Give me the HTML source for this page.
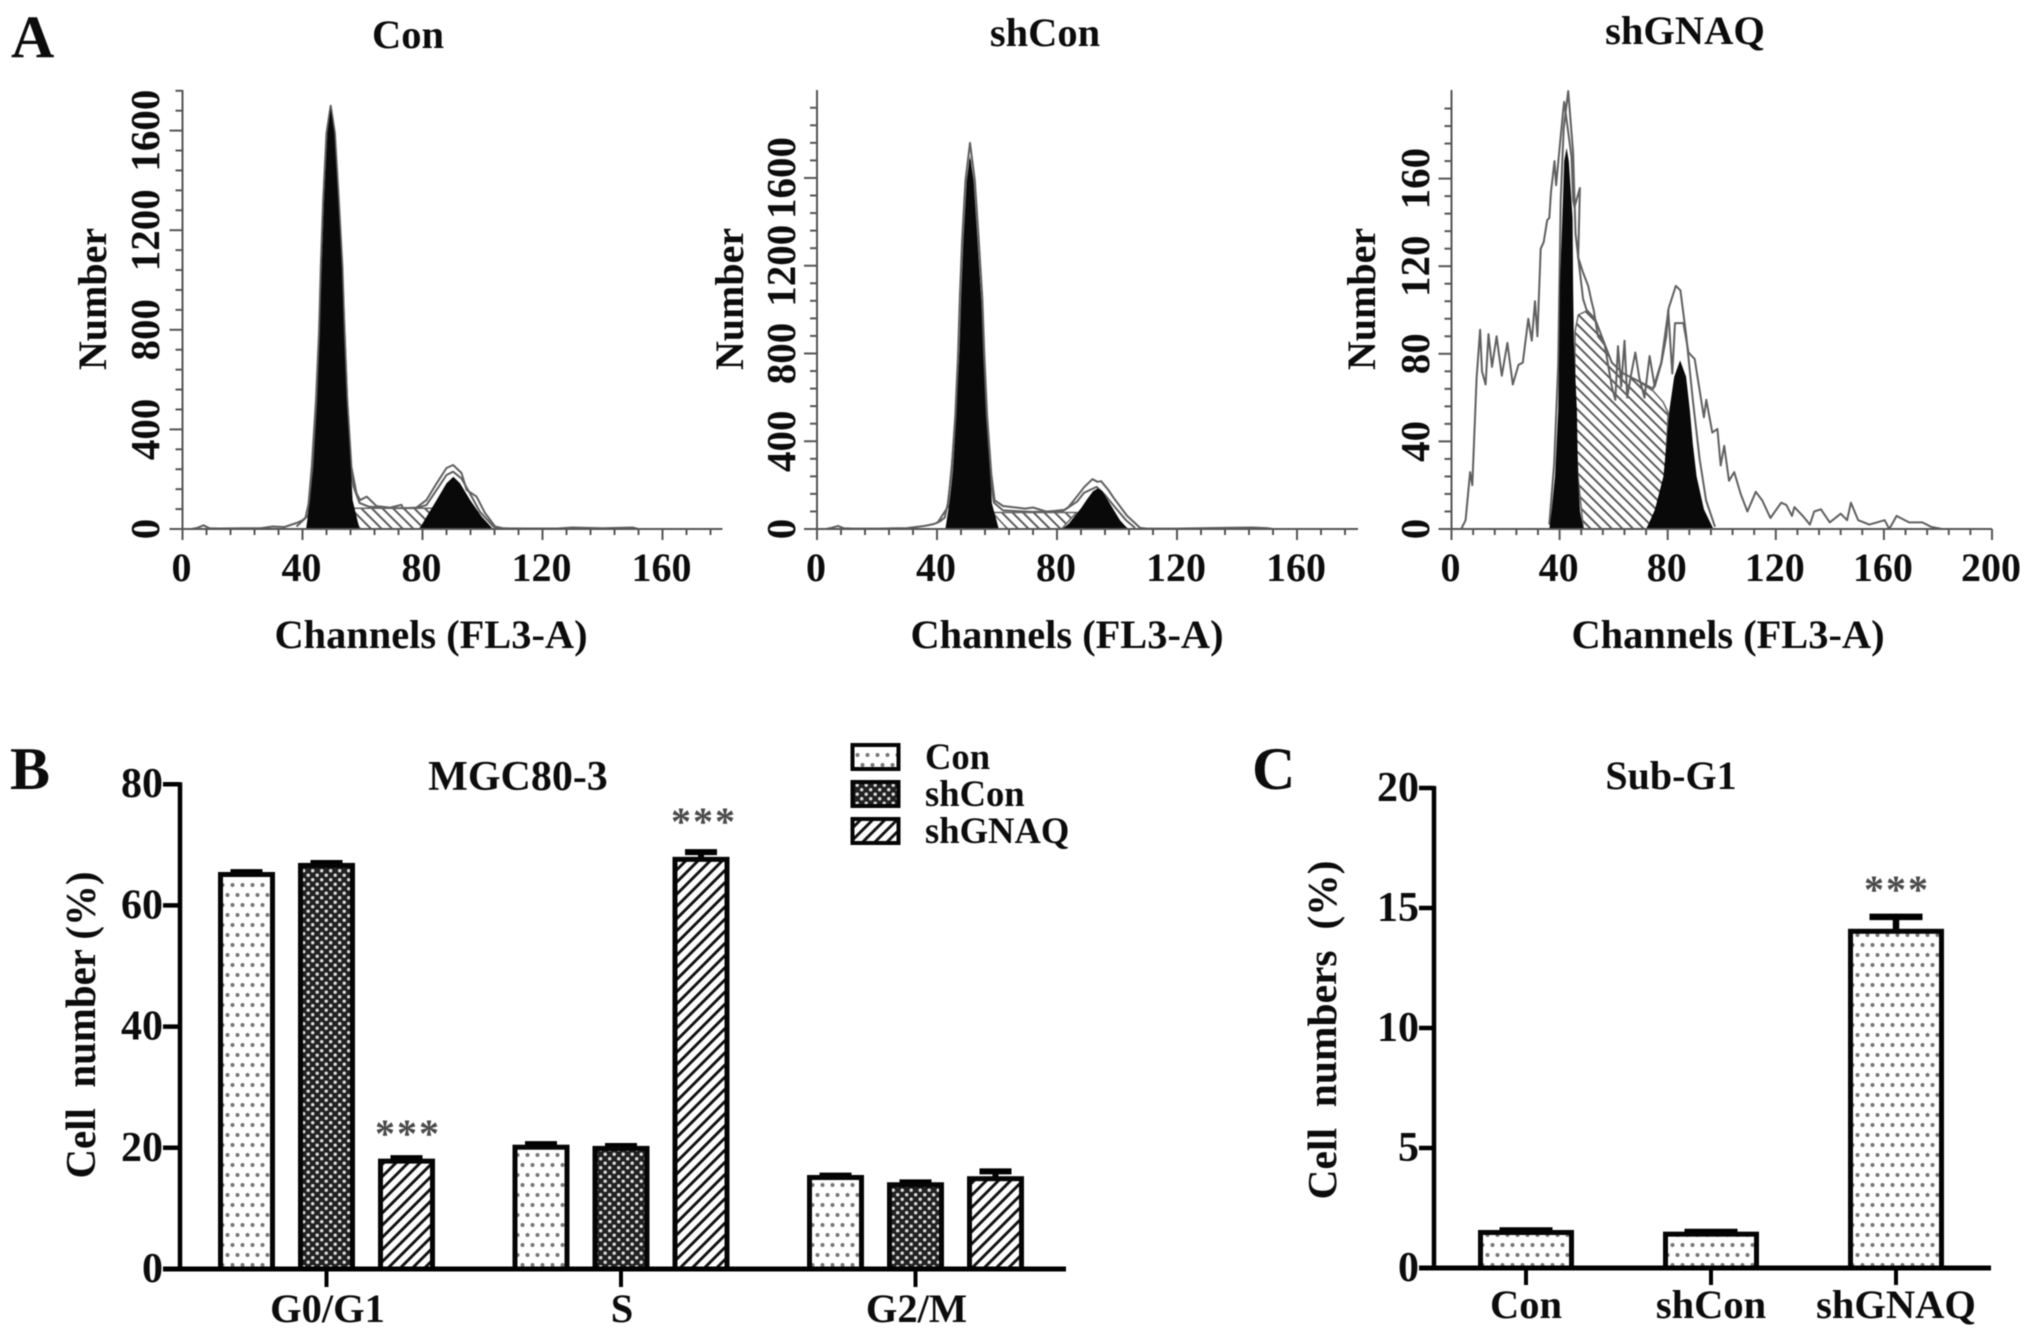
<!DOCTYPE html>
<html lang="en">
<head>
<meta charset="utf-8">
<title>Cell cycle analysis figure</title>
<style>
html,body{margin:0;padding:0;background:#fff;}
svg{display:block;filter:blur(0.6px);}
text{font-family:"Liberation Serif",serif;font-weight:bold;fill:#0c0c0c;white-space:pre;}
</style>
</head>
<body>
<svg id="figure" xmlns="http://www.w3.org/2000/svg" width="2031" height="1338" viewBox="0 0 2031 1338">
  <defs>
    <pattern id="p-dots" width="10" height="20" patternUnits="userSpaceOnUse">
      <rect width="10" height="20" fill="#fff"/>
      <circle cx="2.5" cy="5" r="2" fill="#777"/>
      <circle cx="7.5" cy="15" r="2" fill="#777"/>
    </pattern>
    <pattern id="p-cross" width="9" height="9" patternUnits="userSpaceOnUse">
      <rect width="9" height="9" fill="#222"/>
      <circle cx="2.2" cy="2.2" r="1.7" fill="#ddd"/>
      <circle cx="6.7" cy="6.7" r="1.7" fill="#ddd"/>
    </pattern>
    <pattern id="p-stripes" width="8.6" height="9" patternUnits="userSpaceOnUse" patternTransform="rotate(45)">
      <rect width="8.6" height="9" fill="#fff"/>
      <rect x="0" y="0" width="2.9" height="9" fill="#111"/>
    </pattern>
    <pattern id="p-hist-hatch" width="7.5" height="7.5" patternUnits="userSpaceOnUse" patternTransform="rotate(-45)">
      <rect width="7.5" height="7.5" fill="#fff"/>
      <rect x="0" y="0" width="1.9" height="7.5" fill="#555"/>
    </pattern>
  </defs>
</svg>
<script>
/* ---------- Histogram data (channel / count) ---------- */
const conRawChannels = [0,3,5,7,9,12,20,26,30,34,38,40,41,42,43.1,44.5,45.5,46.1,46.9,48,49.4,50.8,52.1,53.3,54,54.9,56.3,58,59.2,61.4,64.7,69.2,73,73.5,78,81.3,84.7,88,90.2,93,94.7,98,100.8,104.2,107,115,125,130,140,150,152,180];
const conRawCounts = [0,0,5,15,3,2,3,3,10,8,24,35,45,100,250,518,787,1053,1321,1590,1700,1590,1321,1053,787,518,250,143,116,130,92,86,97,83,86,116,183,245,257,225,157,130,65,10,3,2,2,6,3,6,0,0];
const conFitChannels = [38,42,43,44.9,46,47,48,49.4,51,52,53.3,54,54.9,56.2,57,59,62,70,78,81.3,84.7,88,90.2,93,95.8,99.1,103.6,106];
const conFitCounts = [10,56,180,560,800,1100,1400,1680,1400,1200,1000,800,518,230,170,105,90,84,84,96,157,217,230,203,143,70,10,2];
const conG1Channels = [41.2,42.5,43.6,44.9,45.8,46.4,47.2,48.3,49.4,50.6,51.9,53.1,53.8,54.7,56.1,56.7,59];
const conG1Counts = [0,116,250,518,787,1053,1321,1590,1690,1590,1321,1053,787,518,250,116,0];
const conSChannels = [56.4,70,83.6,79,59];
const conSCounts = [83,83,83,0,0];
const conG2Channels = [79,81.4,84.7,88,90.3,92.5,95.9,99.7,103.5];
const conG2Counts = [0,50,116,184,210,184,116,50,0];

const shConRawChannels = [0,3,5,7,9,12,20,30,33,36,39,41,42.6,43.6,44.8,46.1,47,47.6,48.4,49.5,51,52.6,53.9,55.1,55.8,56.7,58.1,59.2,62,69.4,72,76.6,82.4,83.8,86.7,89,91.8,93.5,94.7,97,99,103.3,107.7,110,120,130,138,145,150,152,180];
const shConRawCounts = [0,0,6,14,3,2,2,4,9,14,23,35,52,116,250,518,787,1053,1321,1590,1760,1590,1321,1053,787,518,250,131,105,93,98,79,87,100,149,190,227,215,218,180,140,61,5,2,2,4,6,7,4,0,0];
const shConFitChannels = [40,43.6,45,46.8,48,49,50,51,52.6,53.6,54.7,55.4,56.3,57.7,59,62,72,82,86.7,89,93.2,96,99,103,106];
const shConFitCounts = [25,100,300,600,850,1100,1400,1680,1400,1200,1000,800,518,230,120,85,78,82,125,165,192,155,105,40,5];
const shConG1Channels = [42.8,44.1,45.2,46.5,47.4,48,48.8,49.9,51,52.2,53.5,54.7,55.4,56.3,57.7,58.3,60.6];
const shConG1Counts = [0,116,250,518,787,1053,1321,1590,1700,1590,1321,1053,787,518,250,116,0];
const shConSChannels = [58.5,72,86.5,81.5,63.5];
const shConSCounts = [75,75,75,0,0];
const shConG2Channels = [81.7,84,86,88,90,92,93.6,95,97,99,101,103,104];
const shConG2Counts = [0,25,60,95,135,172,185,175,130,85,40,10,0];

const gnaqRawChannels = [0,3.6,5.2,6.9,7.7,9.3,10.6,11.3,12.6,13.7,15,16.7,18.6,20.7,22.7,24.8,26.4,28.4,29.7,30.9,31.8,33,34.1,35.4,36.2,36.8,38.1,38.7,40,41.4,41.7,43,44.4,45,45.5,47.5,46.9,48.7,50.6,51.8,52.6,54.2,56.7,59.3,60.6,61.6,62.8,64,65,66.3,68,69.5,71.4,73.3,75.2,77.7,79.5,80.2,81.7,82.7,85.8,87.7,90,93.4,94.3,96.5,98.4,99.6,100.9,102.7,104.6,107,109.5,112.6,115,118,122,123.9,126,126.9,130,132.6,134.2,136.7,140,144,146.4,147.8,150.5,154.6,160.3,162,164.7,169.3,174.2,177.5,181.5,200];
const gnaqRawCounts = [0,0,4,26,20,69,91,72,66,89,74,88,70,85,66,75,76,96,86,104,88,128,131,141,142,154,168,157,174,192,195,183,170,150,147,155.7,124,117,111,104,100,88,84,65,59,83.5,65,86,60,69.5,80.6,69,60,79,65,76,88,100,71,94,94,80.6,77.6,51,59,44,45.7,29,38,22,26,16,8,17,13,5,12,11,6,10,6,2,8,9,3,7,4,12,4,2,4,0,6,3,3,1,0,0];
const gnaqFitChannels = [36.2,38,39.5,40.4,41.5,43.2,45,45.9,46.9,48.7,50,53.1,56.2,59.3,63.6,68.5,74.6,77.6,80.4,83,84.7,86.9,89.3,91.8,94.2,97.5];
const gnaqFitCounts = [2,30,75,150,183,200,172,135,124,105,100,96,86,76,71,68,64,76,101,111,109,88,59,32,13,1];
const gnaqG1Channels = [36.2,37,38.3,39.5,39.9,40.1,41,41.7,42.6,43.4,44.8,45,45.3,46.4,46.8,47.6,48.8];
const gnaqG1Counts = [0,8,24,54,85,111,142,168,174,168,142,111,85,54,24,8,0];
const gnaqSChannels = [45.7,46.9,50,53.1,56.2,59.3,63.6,68.5,74.6,78.3,80.2,79.6,79,75.9,72.2,48.8,46.8,45.5];
const gnaqSCounts = [90,97.7,99.6,96,86,76,71,68,63,58,53,39,24,9,0,0,24,54];
const gnaqG2Channels = [72.2,75.3,78.4,79.6,80.6,82.4,84.6,86.8,88.2,89.3,90.7,93.4,96.9];
const gnaqG2Counts = [0,9,24,39,54,69.5,77,69.5,54,39,24,9,0];

const histXTicksA = [0,40,80,120,160];
const histXTicksC = [0,40,80,120,160,200];
const histYTicksCount = [0,400,800,1200,1600];
const histYTicksGnaq = [0,40,80,120,160];

/* ---------- Bar chart B data ---------- */
const phaseCategories = ['G0/G1','S','G2/M'];
const groupNames = ['Con','shCon','shGNAQ'];
const conPhaseValues = [65.1,20.1,15.1];
const shConPhaseValues = [66.6,19.9,13.9];
const shGnaqPhaseValues = [17.8,67.6,14.9];
const conPhaseErrors = [0.4,0.5,0.3];
const shConPhaseErrors = [0.4,0.4,0.4];
const shGnaqPhaseErrors = [0.5,1.2,1.2];
const phaseYTicks = [0,20,40,60,80];

/* ---------- Bar chart C data ---------- */
const subG1Categories = ['Con','shCon','shGNAQ'];
const subG1Values = [1.48,1.41,14.03];
const subG1Errors = [0.08,0.09,0.6];
const subG1YTicks = [0,5,10,15,20];

/* ---------- helpers ---------- */
const NS = 'http://www.w3.org/2000/svg';
const svg = document.getElementById('figure');
function el(tag, attrs, parent) {
  const n = document.createElementNS(NS, tag);
  for (const k in attrs) n.setAttribute(k, attrs[k]);
  (parent || svg).appendChild(n);
  return n;
}
function label(str, x, y, size, anchor, rot, parent, extra) {
  const a = Object.assign({x: x, y: y, 'font-size': size, 'text-anchor': anchor || 'middle'}, extra || {});
  if (rot) a.transform = 'rotate(' + rot + ' ' + x + ' ' + y + ')';
  const t = el('text', a, parent);
  t.textContent = str;
  return t;
}
function pathFrom(xs, ys, sx, sy, close) {
  let d = '';
  for (let i = 0; i < xs.length; i++) d += (i ? 'L' : 'M') + sx(xs[i]).toFixed(1) + ' ' + sy(ys[i]).toFixed(1);
  return d + (close ? 'Z' : '');
}

/* ---------- Histogram panel ---------- */
function histogram(cfg) {
  const g = el('g', {});
  
  
  const sx = v => cfg.x0 + v * cfg.kx;
  const sy = v => cfg.base - v * cfg.ky;
  const axisColor = '#555';

  const title = label(cfg.title, cfg.titleX, cfg.titleY, 40.5, 'middle', 0, g);
  
  

  const hatch = el('path', {d: pathFrom(cfg.s[0], cfg.s[1], sx, sy, true), fill: 'url(#p-hist-hatch)', stroke: '#666', 'stroke-width': 1.5}, g);
  
  

  const raw = el('path', {d: pathFrom(cfg.raw[0], cfg.raw[1], sx, sy), fill: 'none', stroke: '#606060', 'stroke-width': 2, 'stroke-linejoin': 'round'}, g);
  
  

  const fit = el('path', {d: pathFrom(cfg.fit[0], cfg.fit[1], sx, sy), fill: 'none', stroke: '#606060', 'stroke-width': 2, 'stroke-linejoin': 'round'}, g);
  
  

  const g1 = el('path', {d: pathFrom(cfg.g1[0], cfg.g1[1], sx, sy, true), fill: '#090909'}, g);
  
  

  const g2 = el('path', {d: pathFrom(cfg.g2[0], cfg.g2[1], sx, sy, true), fill: '#090909'}, g);
  
  

  const yAxis = el('line', {x1: cfg.x0, x2: cfg.x0, y1: cfg.top, y2: cfg.base, stroke: axisColor, 'stroke-width': 2}, g);
  
  

  const xAxis = el('line', {x1: cfg.x0 - 13, x2: cfg.xEnd, y1: cfg.base, y2: cfg.base, stroke: axisColor, 'stroke-width': 2}, g);
  
  

  for (let v = 0; v <= cfg.xMax + 0.01; v += 8) {
    const major = v % 40 === 0;
    const t = el('line', {x1: sx(v), x2: sx(v), y1: cfg.base, y2: cfg.base + (major ? 11 : 6), stroke: axisColor, 'stroke-width': 2}, g);
    
    
  }
  for (let v = 0; v <= cfg.yMax + 0.01; v += cfg.yMinor) {
    const major = v % (cfg.yMinor * 5) === 0;
    const t = el('line', {x1: cfg.x0 - (major ? 13 : 7), x2: cfg.x0, y1: sy(v), y2: sy(v), stroke: axisColor, 'stroke-width': 2}, g);
    
    
  }
  cfg.xTicks.forEach(v => {
    const t = label(String(v), sx(v) - 1, cfg.base + 52, 40, 'middle', 0, g);
    
    
  });
  cfg.yTicks.forEach(v => {
    const t = label(String(v), cfg.yLabelX, sy(v), 41, 'middle', -90, g);
    
    
  });
  const xt = label('Channels (FL3-A)', cfg.xTitleX, 648, 40.4, 'middle', 0, g);
  
  
  const yt = label('Number', cfg.yTitleX, 299, 40, 'middle', -90, g);
  
  
}

histogram({name:'con', title:'Con', titleX:408, titleY:48, x0:182.5, kx:3, xEnd:722, xMax:180, base:529, top:90, ky:0.249, yMax:1760, yMinor:80,
  xTicks:histXTicksA, yTicks:histYTicksCount, yLabelX:159, xTitleX:431, yTitleX:106,
  raw:[conRawChannels,conRawCounts], fit:[conFitChannels,conFitCounts], g1:[conG1Channels,conG1Counts], s:[conSChannels,conSCounts], g2:[conG2Channels,conG2Counts]});
histogram({name:'shcon', title:'shCon', titleX:1045, titleY:46, x0:817, kx:3, xEnd:1358, xMax:180, base:529, top:90, ky:0.2194, yMax:1920, yMinor:80,
  xTicks:histXTicksA, yTicks:histYTicksCount, yLabelX:795, xTitleX:1067, yTitleX:743,
  raw:[shConRawChannels,shConRawCounts], fit:[shConFitChannels,shConFitCounts], g1:[shConG1Channels,shConG1Counts], s:[shConSChannels,shConSCounts], g2:[shConG2Channels,shConG2Counts]});
histogram({name:'shgnaq', title:'shGNAQ', titleX:1685, titleY:44, x0:1451.5, kx:2.7025, xEnd:1992, xMax:200, base:529, top:90, ky:2.19, yMax:192, yMinor:8,
  xTicks:histXTicksC, yTicks:histYTicksGnaq, yLabelX:1429, xTitleX:1728, yTitleX:1375,
  raw:[gnaqRawChannels,gnaqRawCounts], fit:[gnaqFitChannels,gnaqFitCounts], g1:[gnaqG1Channels,gnaqG1Counts], s:[gnaqSChannels,gnaqSCounts], g2:[gnaqG2Channels,gnaqG2Counts]});

/* ---------- Panel letters ---------- */
const letterA = label('A', 11, 57, 60, 'start');


const letterB = label('B', 10, 789, 60, 'start');


const letterC = label('C', 1252, 789, 60, 'start');



/* ---------- Panel B ---------- */
(function () {
  const g = el('g', {});
  
  
  const base = 1269, k = 6.06, axisX = 180;
  const sy = v => base - v * k;
  const groupX = i => 326.5 + i * 294.5;
  const fills = ['url(#p-dots)', 'url(#p-cross)', 'url(#p-stripes)'];
  const series = [conPhaseValues, shConPhaseValues, shGnaqPhaseValues];
  const errors = [conPhaseErrors, shConPhaseErrors, shGnaqPhaseErrors];

  const title = label('MGC80-3', 518, 790, 42, 'middle', 0, g);
  
  

  series.forEach((vals, s) => {
    vals.forEach((v, c) => {
      const cx = groupX(c) + (s - 1) * 80;
      const err = errors[s][c];
      const stem = el('line', {x1: cx, x2: cx, y1: sy(v), y2: sy(v + err), stroke: '#000', 'stroke-width': 6}, g);
      
      
      const cap = el('line', {x1: cx - 16, x2: cx + 16, y1: sy(v + err), y2: sy(v + err), stroke: '#000', 'stroke-width': 6}, g);
      
      
      const bar = el('rect', {x: cx - 26, y: sy(v), width: 52, height: base - sy(v), fill: fills[s], stroke: '#050505', 'stroke-width': 5}, g);
      
      
    });
  });

  const yAxis = el('line', {x1: axisX, x2: axisX, y1: sy(80) - 2, y2: base, stroke: '#000', 'stroke-width': 4.5}, g);
  
  
  const xAxis = el('line', {x1: 163, x2: 1066, y1: base, y2: base, stroke: '#000', 'stroke-width': 5}, g);
  
  

  phaseYTicks.forEach(v => {
    const t = el('line', {x1: 163, x2: axisX, y1: sy(v), y2: sy(v), stroke: '#000', 'stroke-width': 4.5}, g);
    
    
    const l = label(String(v), 163, sy(v) + 13, 42, 'end', 0, g);
    
    
  });
  phaseCategories.forEach((c, i) => {
    const t = el('line', {x1: groupX(i), x2: groupX(i), y1: base, y2: base + 18, stroke: '#000', 'stroke-width': 4}, g);
    
    
    const l = label(c, groupX(i) + 1, 1322, 40.5, 'middle', 0, g);
    
    
  });
  const yt = label('Cell  number (%)', 95, 1025, 42, 'middle', -90, g, {textLength: 307, lengthAdjust: 'spacingAndGlyphs'});
  
  

  const star1 = label('***', 408, 1147, 40, 'middle', 0, g, {'letter-spacing': 2, style: 'fill:#4a4a4a'});
  
  
  const star2 = label('***', 704, 835, 40, 'middle', 0, g, {'letter-spacing': 2, style: 'fill:#4a4a4a'});
  
  

  const legendY = [743, 780, 817];
  groupNames.forEach((n, i) => {
    const sw = el('rect', {x: 852.5, y: legendY[i] + 2, width: 46, height: 24, fill: fills[i], stroke: '#050505', 'stroke-width': 4}, g);
    
    
    const l = label(n, 925, legendY[i] + 26, 36.6, 'start', 0, g);
    
    
  });
})();

/* ---------- Panel C ---------- */
(function () {
  const g = el('g', {});
  
  
  const base = 1268, k = 24, axisX = 1434;
  const sy = v => base - v * k;
  const catX = i => 1526 + i * 185;

  const title = label('Sub-G1', 1671, 789, 40, 'middle', 0, g);
  
  

  subG1Values.forEach((v, i) => {
    const cx = catX(i);
    const err = subG1Errors[i];
    const stem = el('line', {x1: cx, x2: cx, y1: sy(v), y2: sy(v + err), stroke: '#000', 'stroke-width': 6.5}, g);
    
    
    const cap = el('line', {x1: cx - 26.5, x2: cx + 26.5, y1: sy(v + err), y2: sy(v + err), stroke: '#000', 'stroke-width': 6.5}, g);
    
    
    const bar = el('rect', {x: cx - 45.5, y: sy(v), width: 91, height: base - sy(v), fill: 'url(#p-dots)', stroke: '#050505', 'stroke-width': 5}, g);
    
    
  });

  const yAxis = el('line', {x1: axisX, x2: axisX, y1: sy(20) - 2, y2: base, stroke: '#000', 'stroke-width': 4.5}, g);
  
  
  const xAxis = el('line', {x1: 1419, x2: 1991, y1: base, y2: base, stroke: '#000', 'stroke-width': 5}, g);
  
  

  subG1YTicks.forEach(v => {
    const t = el('line', {x1: 1419, x2: axisX, y1: sy(v), y2: sy(v), stroke: '#000', 'stroke-width': 4.5}, g);
    
    
    const l = label(String(v), 1419, sy(v) + 13, 42, 'end', 0, g);
    
    
  });
  subG1Categories.forEach((c, i) => {
    const t = el('line', {x1: catX(i), x2: catX(i), y1: base, y2: base + 17, stroke: '#000', 'stroke-width': 4}, g);
    
    
    const l = label(c, catX(i), 1318, 40.5, 'middle', 0, g);
    
    
  });
  const yt = label('Cell  numbers  (%)', 1336, 1030, 41, 'middle', -90, g, {textLength: 339, lengthAdjust: 'spacingAndGlyphs'});
  
  

  const star = label('***', 1897, 903, 40, 'middle', 0, g, {'letter-spacing': 2, style: 'fill:#4a4a4a'});
  
  
})();
</script>
</body>
</html>
